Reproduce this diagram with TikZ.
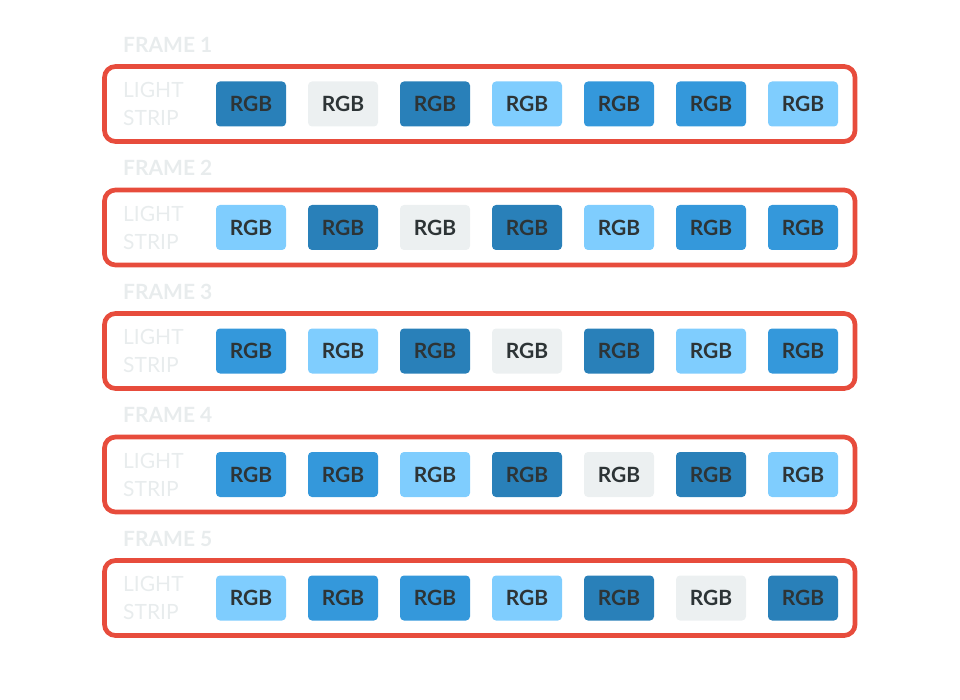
\documentclass[tikz,border=0pt]{standalone}
\usepackage{fontspec}
\setmainfont{Lato}
\usepackage{tikz}
\usetikzlibrary{positioning}

\definecolor{stripred}{HTML}{E74C3C}
\definecolor{ledDark}{HTML}{2980B9}
\definecolor{ledMid}{HTML}{3498DB}
\definecolor{ledLight}{HTML}{7FCDFE}
\definecolor{ledOff}{HTML}{ECF0F1}
\definecolor{labelgray}{HTML}{E8ECED}
\definecolor{ledtext}{HTML}{2D3436}

\begin{document}
\begin{tikzpicture} [x=1pt, y=1pt, node distance=22pt,
                    nauha/.style={draw=stripred, line width=4.7pt, rounded corners=11pt,
                        minimum width=750.5pt, minimum height=75pt, inner sep=0pt, outer sep=0pt},
                    kehys/.style={inner sep=0pt, text=labelgray, font=\bfseries\fontsize{21}{21}\selectfont},
                    teksti/.style={inner sep=0pt, align=left, text=labelgray, font=\fontsize{21}{28}\selectfont},
                    led/.style={rounded corners=4pt, minimum width=70pt, minimum height=45pt,
                        inner sep=0pt, outer sep=0pt, text=ledtext, font=\bfseries\fontsize{21}{21}\selectfont},
                    ldark/.style={led, fill=ledDark},
                    lmid/.style={led, fill=ledMid},
                    llight/.style={led, fill=ledLight},
                    loff/.style={led, fill=ledOff}]

\useasboundingbox (0,0) rectangle (960,-700);

% strips
\node[nauha] (S1) at (479.75,-104) {};
\node[nauha] (S2) [below=48.5pt of S1] {};
\node[nauha] (S3) [below=48.5pt of S2] {};
\node[nauha] (S4) [below=48.5pt of S3] {};
\node[nauha] (S5) [below=48.5pt of S4] {};

% frame titles
\node[kehys] (K1) [above right=14pt and 18.5pt of S1.north west] {FRAME 1};
\node[kehys] (K2) [above right=14pt and 18.5pt of S2.north west] {FRAME 2};
\node[kehys] (K3) [above right=14pt and 18.5pt of S3.north west] {FRAME 3};
\node[kehys] (K4) [above right=14pt and 18.5pt of S4.north west] {FRAME 4};
\node[kehys] (K5) [above right=14pt and 18.5pt of S5.north west] {FRAME 5};

\node[teksti] (T1) [right=18.5pt of S1.west] {LIGHT\\STRIP};
\node[teksti] (T2) [right=18.5pt of S2.west] {LIGHT\\STRIP};
\node[teksti] (T3) [right=18.5pt of S3.west] {LIGHT\\STRIP};
\node[teksti] (T4) [right=18.5pt of S4.west] {LIGHT\\STRIP};
\node[teksti] (T5) [right=18.5pt of S5.west] {LIGHT\\STRIP};

% frame 1
\node[ldark]  (L11) [right=111.5pt of S1.west] {RGB};
\node[loff]   (L12) [right=of L11] {RGB};
\node[ldark]  (L13) [right=of L12] {RGB};
\node[llight] (L14) [right=of L13] {RGB};
\node[lmid]   (L15) [right=of L14] {RGB};
\node[lmid]   (L16) [right=of L15] {RGB};
\node[llight] (L17) [right=of L16] {RGB};

% frame 2
\node[llight] (L21) [right=111.5pt of S2.west] {RGB};
\node[ldark]  (L22) [right=of L21] {RGB};
\node[loff]   (L23) [right=of L22] {RGB};
\node[ldark]  (L24) [right=of L23] {RGB};
\node[llight] (L25) [right=of L24] {RGB};
\node[lmid]   (L26) [right=of L25] {RGB};
\node[lmid]   (L27) [right=of L26] {RGB};

% frame 3
\node[lmid]   (L31) [right=111.5pt of S3.west] {RGB};
\node[llight] (L32) [right=of L31] {RGB};
\node[ldark]  (L33) [right=of L32] {RGB};
\node[loff]   (L34) [right=of L33] {RGB};
\node[ldark]  (L35) [right=of L34] {RGB};
\node[llight] (L36) [right=of L35] {RGB};
\node[lmid]   (L37) [right=of L36] {RGB};

% frame 4
\node[lmid]   (L41) [right=111.5pt of S4.west] {RGB};
\node[lmid]   (L42) [right=of L41] {RGB};
\node[llight] (L43) [right=of L42] {RGB};
\node[ldark]  (L44) [right=of L43] {RGB};
\node[loff]   (L45) [right=of L44] {RGB};
\node[ldark]  (L46) [right=of L45] {RGB};
\node[llight] (L47) [right=of L46] {RGB};

% frame 5
\node[llight] (L51) [right=111.5pt of S5.west] {RGB};
\node[lmid]   (L52) [right=of L51] {RGB};
\node[lmid]   (L53) [right=of L52] {RGB};
\node[llight] (L54) [right=of L53] {RGB};
\node[ldark]  (L55) [right=of L54] {RGB};
\node[loff]   (L56) [right=of L55] {RGB};
\node[ldark]  (L57) [right=of L56] {RGB};
\end{tikzpicture}
\end{document}
